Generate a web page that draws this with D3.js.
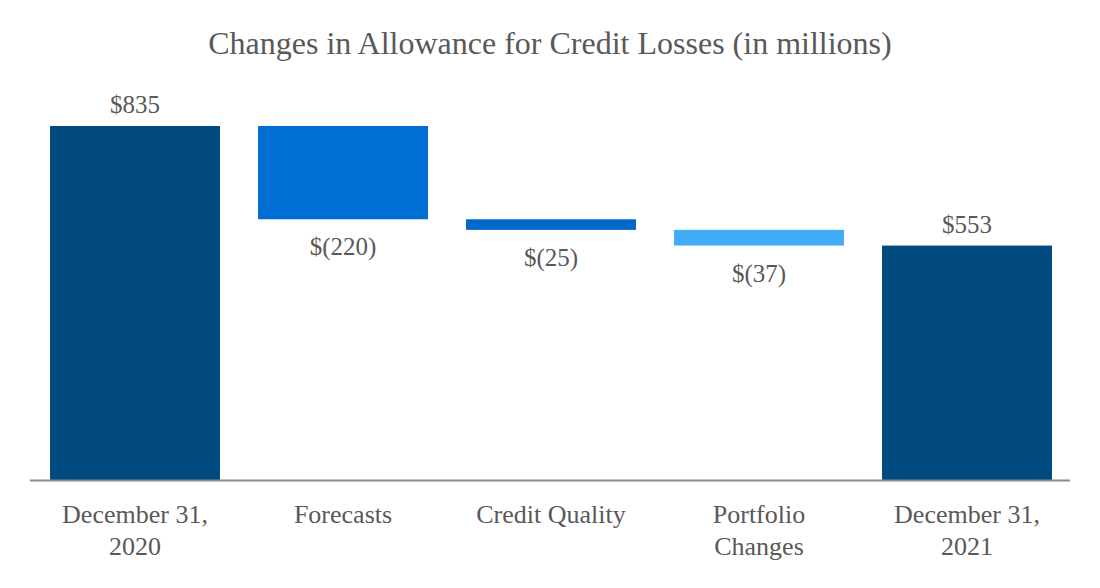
<!DOCTYPE html>
<html>
<head>
<meta charset="utf-8">
<script src="https://cdn.jsdelivr.net/npm/d3@7"></script>
<style>
  body { margin: 0; background: #fff; }
</style>
</head>
<body>
<svg id="chart" width="1100" height="588"></svg>
<script>
// data
const categories = ["December 31, 2020", "Forecasts", "Credit Quality", "Portfolio Changes", "December 31, 2021"];
const labelLines = [["December 31,", "2020"], ["Forecasts"], ["Credit Quality"], ["Portfolio", "Changes"], ["December 31,", "2021"]];
const values = [835, -220, -25, -37, 553];
const isTotal = [true, false, false, false, true];
const valueLabels = ["$835", "$(220)", "$(25)", "$(37)", "$553"];
const colors = ["#004A7F", "#006ED2", "#0067CB", "#43ACF7", "#004A7F"];

const FONT = "'Liberation Serif', 'DejaVu Serif', serif";
const baseY = 480;

const svg = d3.select("#chart");

// running totals for the waterfall
let running = 0;
const bars = values.map((v, i) => {
	let y0, y1;
	if (isTotal[i]) {
		y0 = 0; y1 = v; running = v;
	} else {
		y0 = running; y1 = running + v; running = y1;
	}
	return { cat: categories[i], lines: labelLines[i], lo: Math.min(y0, y1), hi: Math.max(y0, y1), label: valueLabels[i], color: colors[i], total: isTotal[i] };
});

const x = d3.scaleBand()
	.domain(categories)
	.range([31, 1071])
	.paddingInner(0.183)
	.paddingOuter(0.0915);

const y = d3.scaleLinear()
	.domain([0, 835])
	.range([baseY, 126]);

svg.append("text")
	.attr("x", 550)
	.attr("y", 54)
	.attr("text-anchor", "middle")
	.attr("font-family", FONT)
	.attr("fill", "#595959")
	.attr("font-size", 32)
	.text("Changes in Allowance for Credit Losses (in millions)");

svg.selectAll("rect.bar")
	.data(bars)
	.join("rect")
	.attr("class", "bar")
	.attr("x", d => x(d.cat))
	.attr("width", x.bandwidth())
	.attr("y", d => y(d.hi))
	.attr("height", d => y(d.lo) - y(d.hi))
	.attr("fill", d => d.color);

// value labels: above totals, below decreases
svg.selectAll("text.val")
	.data(bars)
	.join("text")
	.attr("class", "val")
	.attr("x", d => x(d.cat) + x.bandwidth() / 2)
	.attr("y", d => d.total ? y(d.hi) - 13 : y(d.lo) + 36)
	.attr("text-anchor", "middle")
	.attr("font-family", FONT)
	.attr("fill", "#595959")
	.attr("font-size", 25)
	.text(d => d.label);

svg.append("line")
	.attr("x1", 30)
	.attr("x2", 1070)
	.attr("y1", baseY + 0.5)
	.attr("y2", baseY + 0.5)
	.attr("stroke", "#8c8c8c")
	.attr("stroke-width", 2);

const cat = svg.selectAll("text.cat")
	.data(bars)
	.join("text")
	.attr("class", "cat")
	.attr("text-anchor", "middle")
	.attr("font-family", FONT)
	.attr("fill", "#595959")
	.attr("font-size", 26);

cat.selectAll("tspan")
	.data(d => d.lines.map(t => ({ t: t, cx: x(d.cat) + x.bandwidth() / 2 })))
	.join("tspan")
	.attr("x", d => d.cx)
	.attr("y", (d, i) => 523 + i * 32)
	.text(d => d.t);
</script>
</body>
</html>
